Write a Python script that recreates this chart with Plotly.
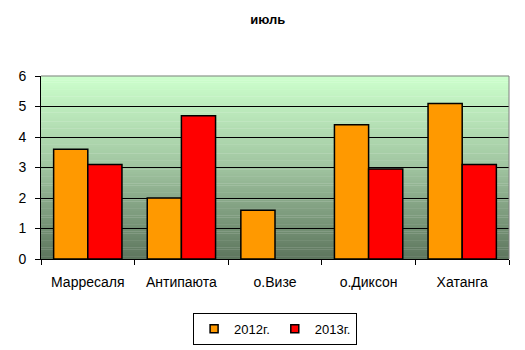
import plotly.graph_objects as go

categories = ["Марресаля", "Антипаюта", "о.Визе", "о.Диксон", "Хатанга"]
series_names = ["2012г.", "2013г."]
values_2012 = [3.6, 2.0, 1.6, 4.4, 5.1]
values_2013 = [3.1, 4.7, None, 2.95, 3.1]
y_ticks = [0, 1, 2, 3, 4, 5, 6]

colors = ["#FF9900", "#FF0000"]

fig = go.Figure()
for name, vals, col in zip(series_names, [values_2012, values_2013], colors):
    fig.add_trace(go.Bar(
        x=categories, y=vals, name=name, showlegend=False,
        marker=dict(color=col, line=dict(color="#000000", width=1.5)),
    ))
for name, col in zip(series_names, colors):
    fig.add_trace(go.Scatter(
        x=[None], y=[None], mode="markers", name=name,
        marker=dict(symbol="square", size=8, color=col, line=dict(color="#000000", width=1.5)),
    ))

# vertical gradient background (stripes)
top = (204, 255, 204)
mid = (160, 196, 160)
bot = (94, 118, 94)
n = 80
shapes = []
for i in range(n):
    t = i / (n - 1)
    if t < 0.5:
        u = t / 0.5
        c = tuple(round(bot[k] + (mid[k] - bot[k]) * u) for k in range(3))
    else:
        u = (t - 0.5) / 0.5
        c = tuple(round(mid[k] + (top[k] - mid[k]) * u) for k in range(3))
    shapes.append(dict(
        type="rect", xref="x domain", yref="y domain",
        x0=0, x1=1, y0=i / n, y1=(i + 1) / n + 0.002,
        fillcolor="rgb(%d,%d,%d)" % c, line=dict(width=0), layer="below",
    ))
shapes.append(dict(type="line", xref="x domain", yref="y domain", x0=0, x1=1, y0=1, y1=1,
                   line=dict(color="#808080", width=1), layer="above"))
shapes.append(dict(type="line", xref="x domain", yref="y domain", x0=1, x1=1, y0=0, y1=1,
                   line=dict(color="#808080", width=1), layer="above"))

fig.update_layout(
    width=525, height=350,
    margin=dict(l=41, r=16, t=76, b=91, autoexpand=False),
    paper_bgcolor="white", plot_bgcolor="rgba(0,0,0,0)",
    font=dict(family="Liberation Sans, Arial", size=14, color="#000000"),
    title=dict(text="<b>июль</b>", x=0.51, xanchor="center", y=0.945, yanchor="middle",
               font=dict(size=13)),
    barmode="group", bargap=0.27, bargroupgap=0,
    shapes=shapes,
    showlegend=True,
    legend=dict(orientation="h", xref="container", yref="container",
                x=0.524, xanchor="center", y=0.106, yanchor="top",
                bordercolor="#000000", borderwidth=1, font=dict(size=13),
                itemwidth=30, traceorder="normal", tracegroupgap=0,
                itemsizing="trace"),
)
fig.update_xaxes(showline=True, linecolor="#000000", linewidth=1, ticks="outside",
                 tickson="boundaries", ticklen=5, tickcolor="#000000", showgrid=False,
                 ticklabelstandoff=10)
fig.update_yaxes(range=[0, 6], tickvals=y_ticks, showline=True, linecolor="#000000",
                 linewidth=1, ticks="outside", ticklen=5, tickcolor="#000000",
                 showgrid=True, gridcolor="#000000", gridwidth=1, zeroline=False,
                 ticklabelstandoff=6)

fig.write_html("out.html")
